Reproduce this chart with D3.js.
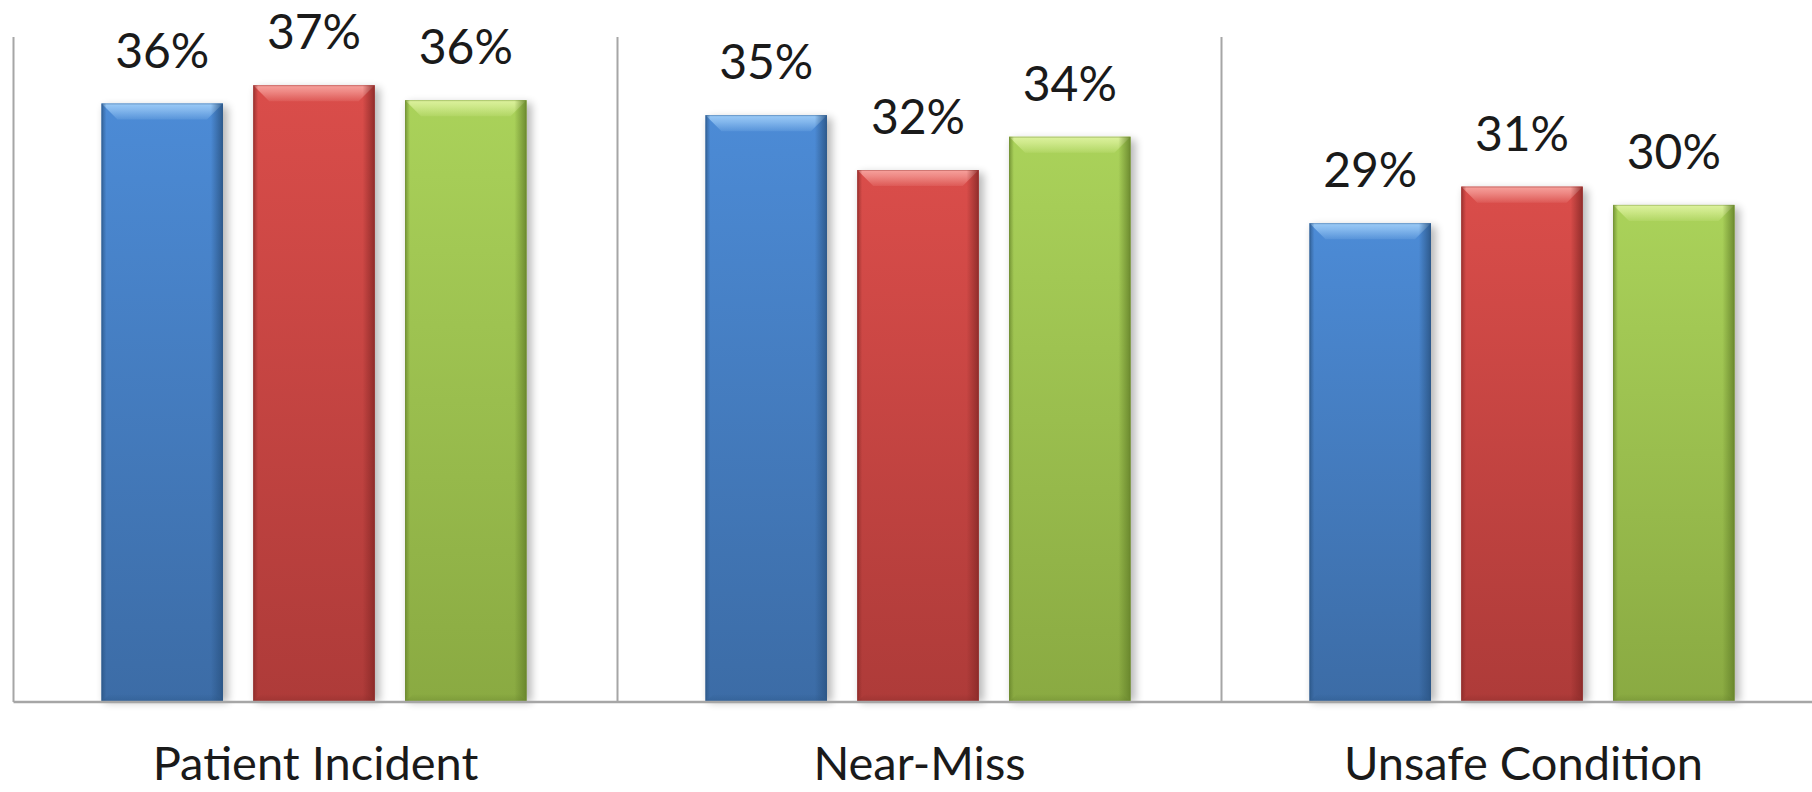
<!DOCTYPE html>
<html>
<head>
<meta charset="utf-8">
<script src="https://cdn.jsdelivr.net/npm/d3@7"></script>
<style>
  html, body { margin: 0; padding: 0; background: #ffffff; }
  svg { display: block; }
  text { font-family: Lato, "Open Sans", sans-serif; fill: #1a1a1a; }
</style>
</head>
<body>
<svg id="chart" width="1812" height="792"></svg>
<script>
// ---- data ----
const categories = ["Patient Incident", "Near-Miss", "Unsafe Condition"];
const seriesNames = ["Series A", "Series B", "Series C"];
const seriesA = [0.360, 0.353, 0.288];
const seriesB = [0.371, 0.320, 0.310];
const seriesC = [0.362, 0.340, 0.299];
const seriesValues = [seriesA, seriesB, seriesC];
const yDomain = [0, 0.40];

// ---- styles ----
const palette = [
  { top: "#4C8BD6", bottom: "#3C6CA6", edge: "#2B5585", bevel: "#9CCBF7", base: "#2F5C90" },
  { top: "#DA4D4A", bottom: "#AE3B39", edge: "#8A2A28", bevel: "#F7A29D", base: "#94302E" },
  { top: "#AAD25A", bottom: "#8AAA42", edge: "#66832B", bevel: "#DDF29E", base: "#728F33" }
];

const W = 1812, H = 792;
const plot = { left: 13.5, right: 1825.5, top: 37, bottom: 702 };

const svg = d3.select("#chart");
const defs = svg.append("defs");

const x0 = d3.scaleBand().domain(categories).range([plot.left, plot.right]).paddingInner(0).paddingOuter(0);
const x1 = d3.scaleBand().domain(seriesNames).range([88, 513]).paddingInner(0.2).paddingOuter(0);
const y = d3.scaleLinear().domain(yDomain).range([plot.bottom, plot.top]);

// gradients
palette.forEach((p, i) => {
  const g = defs.append("linearGradient").attr("id", "body" + i).attr("x1", 0).attr("y1", 0).attr("x2", 0).attr("y2", 1);
  g.append("stop").attr("offset", "0%").attr("stop-color", p.top);
  g.append("stop").attr("offset", "100%").attr("stop-color", p.bottom);

  const s = defs.append("linearGradient").attr("id", "side" + i).attr("x1", 0).attr("y1", 0).attr("x2", 1).attr("y2", 0);
  s.append("stop").attr("offset", "0%").attr("stop-color", p.edge).attr("stop-opacity", 0.75);
  s.append("stop").attr("offset", "4%").attr("stop-color", p.edge).attr("stop-opacity", 0.0);
  s.append("stop").attr("offset", "90%").attr("stop-color", p.edge).attr("stop-opacity", 0.0);
  s.append("stop").attr("offset", "100%").attr("stop-color", p.edge).attr("stop-opacity", 0.9);

  const b = defs.append("linearGradient").attr("id", "bevel" + i).attr("x1", 0).attr("y1", 0).attr("x2", 0).attr("y2", 1);
  b.append("stop").attr("offset", "0%").attr("stop-color", p.bevel).attr("stop-opacity", 1.0);
  b.append("stop").attr("offset", "40%").attr("stop-color", p.bevel).attr("stop-opacity", 0.7);
  b.append("stop").attr("offset", "100%").attr("stop-color", p.bevel).attr("stop-opacity", 0.15);

  const bb = defs.append("linearGradient").attr("id", "base" + i).attr("x1", 0).attr("y1", 0).attr("x2", 0).attr("y2", 1);
  bb.append("stop").attr("offset", "0%").attr("stop-color", p.base).attr("stop-opacity", 0.0);
  bb.append("stop").attr("offset", "100%").attr("stop-color", p.base).attr("stop-opacity", 0.6);
});

const shadow = defs.append("filter").attr("id", "shadow").attr("x", "-20%").attr("y", "-10%").attr("width", "140%").attr("height", "120%");
shadow.append("feGaussianBlur").attr("stdDeviation", 4);

// axis lines / separators
const gridColor = "#A6A6A6";
const boundaries = categories.map(c => x0(c));
svg.append("g").selectAll("line.sep").data(boundaries).join("line")
  .attr("x1", d => d).attr("x2", d => d)
  .attr("y1", plot.top).attr("y2", plot.bottom)
  .attr("stroke", gridColor).attr("stroke-width", 2);

// bars
const flat = [];
categories.forEach((c, ci) => {
  seriesNames.forEach((s, si) => {
    flat.push({ cat: c, ci, s, si, v: seriesValues[si][ci] });
  });
});

const bars = svg.append("g").selectAll("g.bar").data(flat).join("g").attr("class", "bar");

bars.each(function(d) {
  const g = d3.select(this);
  const bx = x0(d.cat) + x1(d.s);
  const bw = x1.bandwidth();
  const by = y(d.v);
  const bh = y(0) - by;
  const bev = 16;
  const bbev = 8;

  g.append("rect").attr("x", bx + 3).attr("y", by + 3).attr("width", bw + 2).attr("height", bh - 3)
    .attr("fill", "#000").attr("opacity", 0.28).attr("filter", "url(#shadow)");
  g.append("rect").attr("x", bx).attr("y", by).attr("width", bw).attr("height", bh)
    .attr("fill", "url(#body" + d.si + ")");
  g.append("path")
    .attr("d", `M${bx},${by} L${bx + bw},${by} L${bx + bw - bev},${by + bev} L${bx + bev},${by + bev} Z`)
    .attr("fill", "url(#bevel" + d.si + ")");
  g.append("path")
    .attr("d", `M${bx},${by + bh} L${bx + bw},${by + bh} L${bx + bw - bbev},${by + bh - bbev} L${bx + bbev},${by + bh - bbev} Z`)
    .attr("fill", "url(#base" + d.si + ")");
  g.append("rect").attr("x", bx).attr("y", by).attr("width", bw).attr("height", bh)
    .attr("fill", "url(#side" + d.si + ")");
  g.append("rect").attr("x", bx + 0.5).attr("y", by + 0.5).attr("width", bw - 1).attr("height", bh - 1)
    .attr("fill", "none").attr("stroke", palette[d.si].edge).attr("stroke-opacity", 0.35).attr("stroke-width", 1);
});

// value labels
const fmt = d3.format(".0%");
svg.append("g").selectAll("text.val").data(flat).join("text")
  .attr("x", d => x0(d.cat) + x1(d.s) + x1.bandwidth() / 2)
  .attr("y", d => y(d.v) - 36)
  .attr("text-anchor", "middle")
  .attr("font-size", 48)
  .text(d => fmt(d.v));

// baseline
svg.append("line").attr("x1", plot.left).attr("x2", plot.right).attr("y1", plot.bottom).attr("y2", plot.bottom)
  .attr("stroke", gridColor).attr("stroke-width", 2.5);

// category labels
svg.append("g").selectAll("text.cat").data(categories).join("text")
  .attr("x", d => x0(d) + x0.bandwidth() / 2)
  .attr("y", 780)
  .attr("text-anchor", "middle")
  .attr("font-size", 47)
  .text(d => d);
</script>
</body>
</html>
